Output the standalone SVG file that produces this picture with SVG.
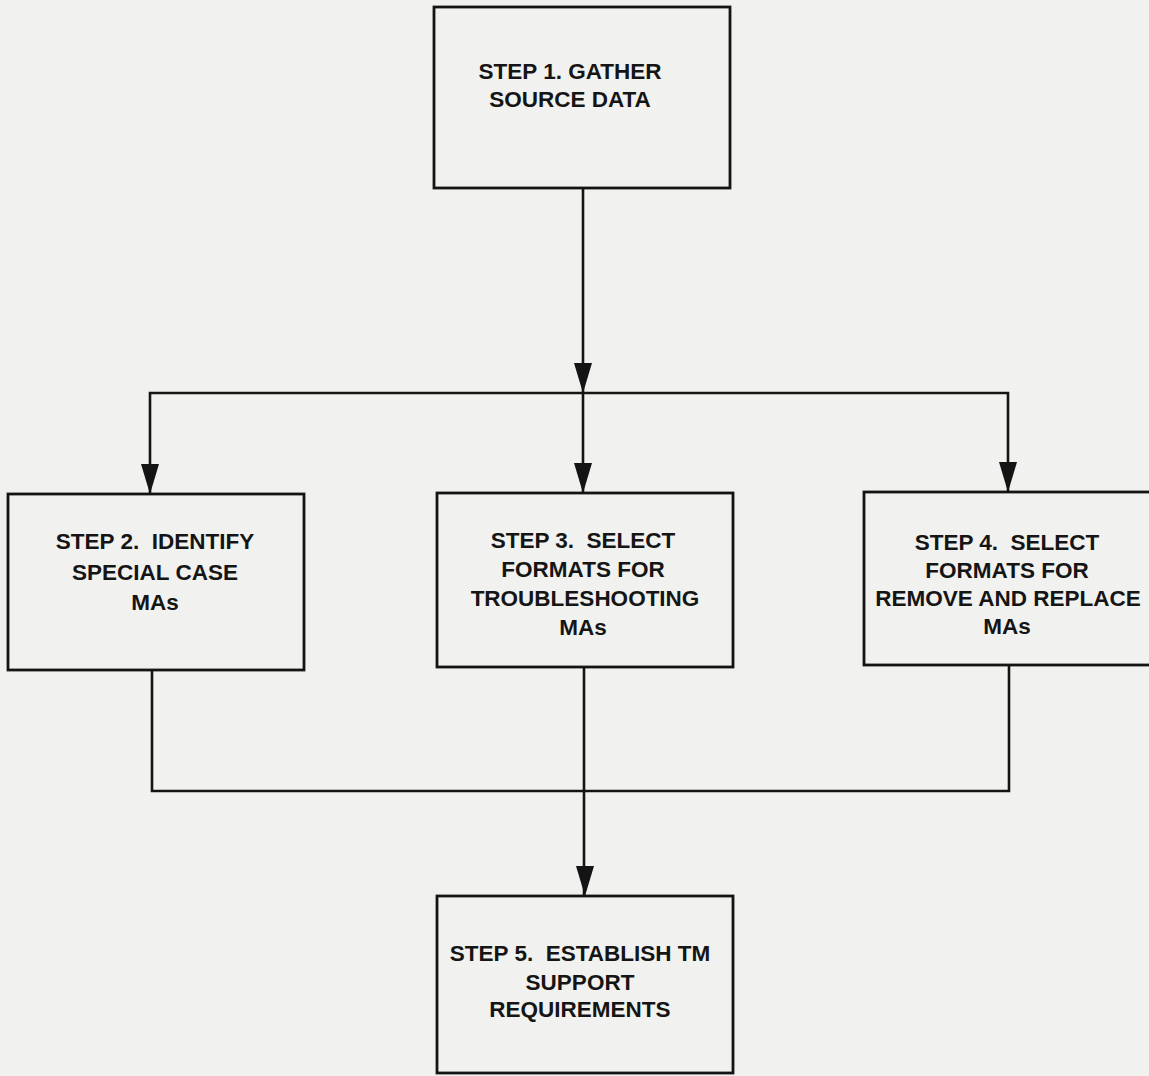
<svg xmlns="http://www.w3.org/2000/svg" width="1149" height="1076" viewBox="0 0 1149 1076">
<style>
.box{fill:none;stroke:#141414;stroke-width:2.8}
.ln{fill:none;stroke:#141414;stroke-width:2.6}
.lbl{font-family:"Liberation Sans",Arial,sans-serif;font-weight:bold;font-size:22.5px;fill:#151515;text-anchor:middle;white-space:pre}
</style>
<defs>
<polygon id="ah" points="-9,-30 9,-30 0,0" fill="#141414"/>
</defs>
<rect x="0" y="0" width="1149" height="1076" fill="#f1f1ef"/>
<g id="connectors">
<path class="ln" d="M583 188 V493"/>
<path class="ln" d="M150 493 V393 H1008 V492"/>
<path class="ln" d="M152 670 V791 H1009 V665"/>
<path class="ln" d="M584 667 V896"/>
<use href="#ah" x="583" y="393"/>
<use href="#ah" x="583" y="493"/>
<use href="#ah" x="150" y="494"/>
<use href="#ah" x="1008" y="492"/>
<use href="#ah" x="585" y="896"/>
</g>
<g id="step1">
<rect class="box" x="434" y="7" width="296" height="181"/>
<text class="lbl" x="570" y="79">STEP 1. GATHER</text>
<text class="lbl" x="570" y="107">SOURCE DATA</text>
</g>
<g id="step2">
<rect class="box" x="8" y="494" width="296" height="176"/>
<text class="lbl" x="155" y="549" xml:space="preserve">STEP 2.  IDENTIFY</text>
<text class="lbl" x="155" y="580">SPECIAL CASE</text>
<text class="lbl" x="155" y="610">MAs</text>
</g>
<g id="step3">
<rect class="box" x="437" y="493" width="296" height="174"/>
<text class="lbl" x="583" y="548" xml:space="preserve">STEP 3.  SELECT</text>
<text class="lbl" x="583" y="577">FORMATS FOR</text>
<text class="lbl" x="585" y="606">TROUBLESHOOTING</text>
<text class="lbl" x="583" y="635">MAs</text>
</g>
<g id="step4">
<rect class="box" x="864" y="492" width="290" height="173"/>
<text class="lbl" x="1007" y="550" xml:space="preserve">STEP 4.  SELECT</text>
<text class="lbl" x="1007" y="578">FORMATS FOR</text>
<text class="lbl" x="1008" y="606">REMOVE AND REPLACE</text>
<text class="lbl" x="1007" y="634">MAs</text>
</g>
<g id="step5">
<rect class="box" x="437" y="896" width="296" height="177"/>
<text class="lbl" x="580" y="961" xml:space="preserve">STEP 5.  ESTABLISH TM</text>
<text class="lbl" x="580" y="990">SUPPORT</text>
<text class="lbl" x="580" y="1017">REQUIREMENTS</text>
</g>
</svg>
